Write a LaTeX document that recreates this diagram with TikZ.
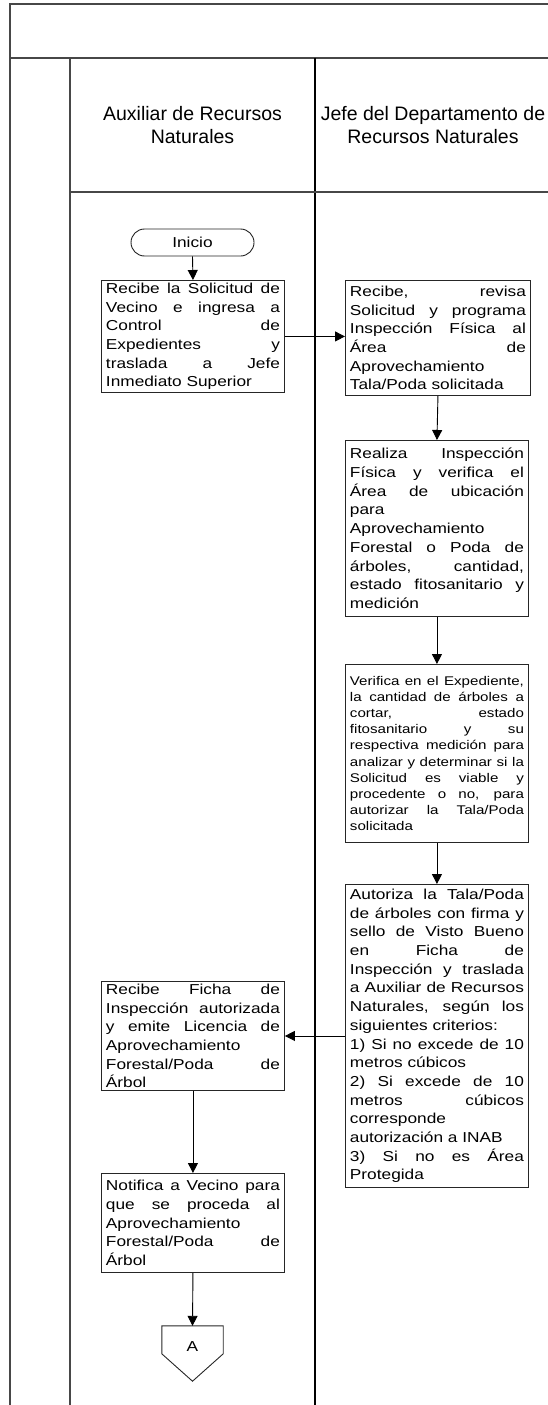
\documentclass[tikz,border=0pt]{standalone}
\usepackage{fontspec}
\setmainfont{Liberation Sans}
\newfontfamily\boxfont[FakeStretch=1.2]{Liberation Sans}
\usetikzlibrary{arrows.meta,shapes.misc}

% a block of fixed-width lines: justified lines and flush-left lines
\newcommand\steptext[2][174pt]{\vbox{\hsize=#1\relax #2}}
\newcommand\jline[1]{\hbox to \hsize{#1}}
\newcommand\lline[1]{\hbox to \hsize{#1\hfil}}

\tikzset{
  frameline/.style={draw=black!72, line width=1.7pt},
  laneline/.style={draw=black, line width=1.1pt},
  hdr/.style={font=\fontsize{19.5}{22.7}\selectfont, align=center, inner sep=0pt},
  stepbox/.style={draw=black!85, line width=0.9pt, anchor=north west,
    inner xsep=4.5pt, inner ysep=0pt, minimum width=183pt,
    font=\boxfont\fontsize{14.4}{18.7}\selectfont},
  smalltext/.style={font=\boxfont\fontsize{12.6}{16.2}\selectfont},
  arr/.style={draw=black, line width=0.9pt, -{Triangle[length=10pt,width=10pt]}},
}

\begin{document}
\begin{tikzpicture}[x=1pt, y=-1pt]
\useasboundingbox (0,0) rectangle (548,1405);
\clip (0,0) rectangle (548,1405);

% swimlane frame
\draw[frameline] (10,1410) -- (10,4) -- (560,4);
\draw[frameline] (10,58) -- (560,58);
\draw[frameline] (70,58) -- (70,1410);
\draw[laneline] (315,58) -- (315,1410);
\draw[draw=black!72, line width=1.3pt] (70,192) -- (560,192);

% lane titles
\node[hdr] (h1) at (192.5,125) {Auxiliar de Recursos\\Naturales};
\node[hdr] (h2) at (433,125) {Jefe del Departamento de\\Recursos Naturales};

% start
\node[rounded rectangle, draw=black!85, line width=0.9pt, minimum width=123pt,
  minimum height=27pt, inner sep=0pt, font=\boxfont\fontsize{14.4}{18.7}\selectfont]
  (ini) at (192.5,242.5) {Inicio};

% steps
\node[stepbox, minimum height=112pt] (b1) at (101,280) {\steptext{%
\jline{Recibe la Solicitud de}
\jline{Vecino e ingresa a}
\jline{Control de}
\jline{Expedientes y}
\jline{traslada a Jefe}
\lline{Inmediato Superior}}};

\node[stepbox, minimum width=185pt, minimum height=115pt] (b2) at (345,280) {\steptext[176pt]{%
\jline{Recibe, revisa}
\jline{Solicitud y programa}
\jline{Inspección Física al}
\jline{Área de}
\lline{Aprovechamiento}
\lline{Tala/Poda solicitada}}};

\node[stepbox, minimum height=176pt] (b3) at (345,440) {\steptext{%
\jline{Realiza Inspección}
\jline{Física y verifica el}
\jline{Área de ubicación}
\lline{para}
\lline{Aprovechamiento}
\jline{Forestal o Poda de}
\jline{árboles, cantidad,}
\jline{estado fitosanitario y}
\lline{medición}}};

\node[stepbox, smalltext, minimum height=178pt] (b4) at (345,664) {\steptext{%
\jline{Verifica en el Expediente,}
\jline{la cantidad de árboles a}
\jline{cortar, estado}
\jline{fitosanitario y su}
\jline{respectiva medición para}
\jline{analizar y determinar si la}
\jline{Solicitud es viable y}
\jline{procedente o no, para}
\jline{autorizar la Tala/Poda}
\lline{solicitada}}};

\node[stepbox, minimum height=303pt] (b5) at (345,884) {\steptext{%
\jline{Autoriza la Tala/Poda}
\jline{de árboles con firma y}
\jline{sello de Visto Bueno}
\jline{en Ficha de}
\jline{Inspección y traslada}
\jline{a Auxiliar de Recursos}
\jline{Naturales, según los}
\lline{siguientes criterios:}
\jline{1) Si no excede de 10}
\lline{metros cúbicos}
\jline{2) Si excede de 10}
\jline{metros cúbicos}
\lline{corresponde}
\lline{autorización a INAB}
\jline{3) Si no es Área}
\lline{Protegida}}};

\node[stepbox, minimum height=109pt] (b6) at (101,981) {\steptext{%
\jline{Recibe Ficha de}
\jline{Inspección autorizada}
\jline{y emite Licencia de}
\lline{Aprovechamiento}
\jline{Forestal/Poda de}
\lline{Árbol}}};

\node[stepbox, minimum height=99pt] (b7) at (101,1173) {\steptext{%
\jline{Notifica a Vecino para}
\jline{que se proceda al}
\lline{Aprovechamiento}
\jline{Forestal/Poda de}
\lline{Árbol}}};

% off-page connector
\node[minimum width=61pt, minimum height=55pt, inner sep=0pt] (con) at (192.5,1353.5) {};
\draw[draw=black!85, line width=0.9pt] (con.north west) -- (con.north east)
  -- ([yshift=-28pt]con.north east) -- (con.south)
  -- ([yshift=-28pt]con.north west) -- cycle;
\node[font=\boxfont\fontsize{14.4}{18.7}\selectfont, inner sep=0pt] (conlabel)
  at ([yshift=-21pt]con.north) {A};

% flow
\draw[arr] (ini.south) -- (b1.north);
\draw[arr] (b1.east) -- (b1.east -| b2.west);
\draw[arr] (b2.south) -- (b3.north);
\draw[arr] (b3.south) -- (b4.north);
\draw[arr] (b4.south) -- (b5.north);
\draw[arr] (b5.west) -- (b5.west -| b6.east);
\draw[arr] (b6.south) -- (b7.north);
\draw[arr] (b7.south) -- (con.north);
\end{tikzpicture}
\end{document}
